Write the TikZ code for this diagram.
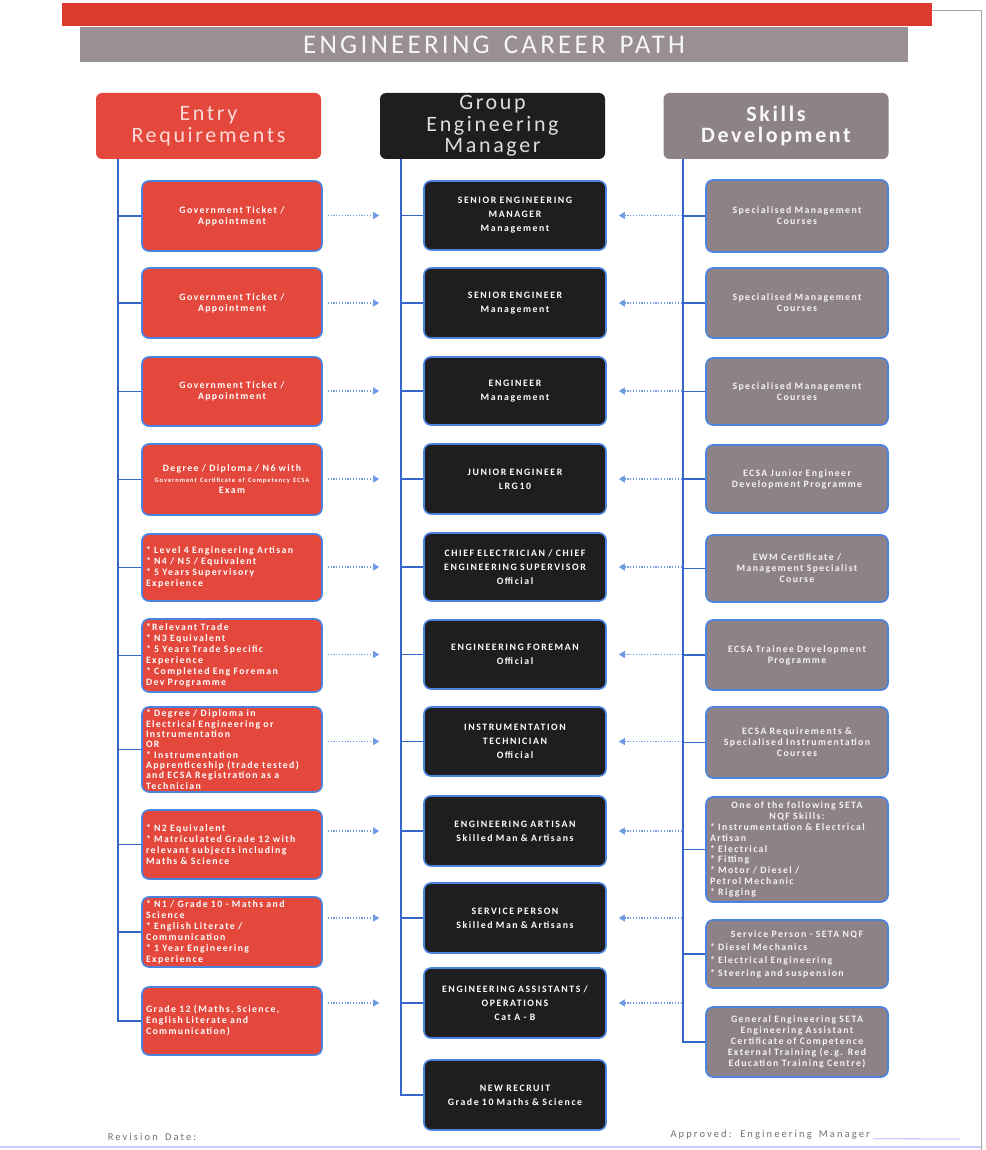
\documentclass[tikz,border=0pt]{standalone}
\usepackage{fontspec}
\setmainfont{Carlito}
\newfontfamily\boxfont[LetterSpace=14,WordSpace=1.8]{Carlito}
\newfontfamily\midfont[LetterSpace=16,WordSpace=2]{Carlito}
\newfontfamily\hdrfont[LetterSpace=12,WordSpace=1.5]{Carlito}
\newfontfamily\footfont[LetterSpace=20,WordSpace=1.6]{Carlito}
\usetikzlibrary{arrows.meta,calc}
\definecolor{topred}{HTML}{DC3A2E}
\definecolor{titlegrey}{HTML}{9A8F95}
\definecolor{redc}{HTML}{E4473B}
\definecolor{blackc}{HTML}{1E1E21}
\definecolor{greyc}{HTML}{8D8288}
\definecolor{bordc}{HTML}{4A84E0}
\definecolor{trunkc}{HTML}{3566C8}
\definecolor{dotc}{HTML}{6F9BE2}
\definecolor{foottext}{HTML}{707070}
\tikzset{
  hdrbox/.style={rounded corners=6pt, minimum width=225pt, minimum height=66pt, inner sep=0pt, text width=220pt, align=center, font={\hdrfont\fontsize{22}{21.5}\selectfont}},
  cbox/.style={rounded corners=7pt, draw=bordc, line width=1.6pt, inner sep=0pt, text=white},
  lbox/.style={cbox, fill=redc, minimum width=180pt, text width=172pt, align=center, font={\boxfont\bfseries\fontsize{9.8}{11}\selectfont}},
  mbox/.style={cbox, fill=blackc, minimum width=182pt, text width=176pt, align=center, font={\midfont\bfseries\fontsize{9.8}{14}\selectfont}},
  rbox/.style={cbox, fill=greyc, minimum width=182pt, text width=174pt, align=center, text=white!90!greyc, font={\boxfont\bfseries\fontsize{9.8}{11}\selectfont}},
  trunk/.style={draw=trunkc, line width=1.5pt},
  dotarr/.style={draw=dotc, line width=1.1pt, dash pattern=on 1.2pt off 1.6pt, -{Triangle[length=6pt,width=7pt]}},
  foot/.style={text=foottext, font={\footfont\fontsize{10.5}{12}\selectfont}, inner sep=0pt}
}
\begin{document}
\begin{tikzpicture}[x=1pt,y=-1pt]
\useasboundingbox (0,0) rectangle (985,1150);
\fill[white] (0,0) rectangle (985,1150);
% page edges
\draw[gray!70, line width=0.8pt] (932,10) -- (981,10) -- (981,1150);
\draw[blue!20, line width=1.2pt] (0,1147) -- (981,1147);
% title bars
\node[fill=topred, minimum width=870pt, minimum height=23pt, inner sep=0pt] (topbar) at (497,14.5) {};
\node[fill=titlegrey, minimum width=828pt, minimum height=35pt, inner sep=0pt, text=white!92!titlegrey, font={\hdrfont\fontsize{27}{28}\selectfont}] (title) at (494,44.5) {ENGINEERING CAREER PATH};
% column headers
\node[hdrbox, fill=redc, text=white!80!redc] (H1) at (208.5,126) {Entry\\Requirements};
\node[hdrbox, fill=blackc, text=white!85!blackc] (H2) at (492.5,126) {Group\\Engineering\\Manager};
\node[hdrbox, fill=greyc, text=white!95!greyc, font={\hdrfont\bfseries\fontsize{22}{21.5}\selectfont}] (H3) at (776,126) {Skills\\Development};
% left column
\node[lbox, minimum height=70pt] (L1) at (232,216) {Government Ticket /\\Appointment};
\node[lbox, minimum height=70pt] (L2) at (232,303) {Government Ticket /\\Appointment};
\node[lbox, minimum height=69pt] (L3) at (232,391.5) {Government Ticket /\\Appointment};
\node[lbox, minimum height=71pt] (L4) at (232,479.5) {Degree / Diploma / N6 with\\{\fontsize{6.5}{8}\selectfont Government Certificate of Competency ECSA}\\Exam};
\node[lbox, minimum height=67pt, align=left] (L5) at (232,567.5) {{*} Level 4 Engineering Artisan\\{*} N4 / N5 / Equivalent\\{*} 5 Years Supervisory\\Experience};
\node[lbox, minimum height=73pt, align=left] (L6) at (232,655.5) {{*}Relevant Trade\\{*} N3 Equivalent\\{*} 5 Years Trade Specific\\Experience\\{*} Completed Eng Foreman\\Dev Programme};
\node[lbox, minimum height=85pt, align=left, font={\boxfont\bfseries\fontsize{9.8}{10.3}\selectfont}] (L7) at (232,749.5) {{*} Degree / Diploma in\\Electrical Engineering or\\Instrumentation\\OR\\{*} Instrumentation\\Apprenticeship (trade tested)\\and ECSA Registration as a\\Technician};
\node[lbox, minimum height=69pt, align=left] (L8) at (232,844.5) {{*} N2 Equivalent\\{*} Matriculated Grade 12 with\\relevant subjects including\\Maths \& Science};
\node[lbox, minimum height=70pt, align=left] (L9) at (232,932) {{*} N1 / Grade 10 - Maths and\\Science\\{*} English Literate /\\Communication\\{*} 1 Year Engineering\\Experience};
\node[lbox, minimum height=68pt, align=left] (L10) at (232,1021) {Grade 12 (Maths, Science,\\English Literate and\\Communication)};
% middle column
\node[mbox, minimum height=69pt] (M1) at (515,215.5) {SENIOR ENGINEERING\\MANAGER\\Management};
\node[mbox, minimum height=70pt] (M2) at (515,303) {SENIOR ENGINEER\\Management};
\node[mbox, minimum height=68pt] (M3) at (515,391) {ENGINEER\\Management};
\node[mbox, minimum height=70pt] (M4) at (515,479) {JUNIOR ENGINEER\\LRG10};
\node[mbox, minimum height=68pt] (M5) at (515,567) {CHIEF ELECTRICIAN / CHIEF\\ENGINEERING SUPERVISOR\\Official};
\node[mbox, minimum height=69pt] (M6) at (515,654.5) {ENGINEERING FOREMAN\\Official};
\node[mbox, minimum height=69pt] (M7) at (515,741.5) {INSTRUMENTATION\\TECHNICIAN\\Official};
\node[mbox, minimum height=70pt] (M8) at (515,831) {ENGINEERING ARTISAN\\Skilled Man \& Artisans};
\node[mbox, minimum height=70pt] (M9) at (515,918) {SERVICE PERSON\\Skilled Man \& Artisans};
\node[mbox, minimum height=70pt] (M10) at (515,1003) {ENGINEERING ASSISTANTS /\\OPERATIONS\\Cat A - B};
\node[mbox, minimum height=70pt] (M11) at (515,1095) {NEW RECRUIT\\Grade 10 Maths \& Science};
% right column
\node[rbox, minimum height=72pt] (R1) at (797,216) {Specialised Management\\Courses};
\node[rbox, minimum height=70pt] (R2) at (797,303) {Specialised Management\\Courses};
\node[rbox, minimum height=67pt] (R3) at (797,391.5) {Specialised Management\\Courses};
\node[rbox, minimum height=68pt] (R4) at (797,479) {ECSA Junior Engineer\\Development Programme};
\node[rbox, minimum height=67pt] (R5) at (797,568.5) {EWM Certificate /\\Management Specialist\\Course};
\node[rbox, minimum height=70pt] (R6) at (797,655) {ECSA Trainee Development\\Programme};
\node[rbox, minimum height=71pt] (R7) at (797,742.5) {ECSA Requirements \&\\Specialised Instrumentation\\Courses};
\node[rbox, minimum height=105pt, align=left, font={\boxfont\bfseries\fontsize{9.8}{10.8}\selectfont}] (R8) at (797,849.5) {\hfil One of the following SETA\\\hfil NQF Skills:\\{*} Instrumentation \& Electrical\\Artisan\\{*} Electrical\\{*} Fitting\\{*} Motor / Diesel /\\Petrol Mechanic\\{*} Rigging};
\node[rbox, minimum height=68pt, align=left, font={\boxfont\bfseries\fontsize{9.8}{13}\selectfont}] (R9) at (797,954) {\hfil Service Person - SETA NQF\\{*} Diesel Mechanics\\{*} Electrical Engineering\\{*} Steering and suspension};
\node[rbox, minimum height=70pt, font={\boxfont\bfseries\fontsize{9.8}{11}\selectfont}] (R10) at (797,1042) {General Engineering SETA\\Engineering Assistant\\Certificate of Competence\\External Training (e.g. Red\\Education Training Centre)};
% trunks
\coordinate (lt) at (118,159);
\coordinate (mt) at (401,159);
\coordinate (rt) at (683,159);
\draw[trunk] (lt) -- (lt |- L10.west) -- (L10.west);
\foreach \i in {1,...,9} \draw[trunk] (lt |- L\i.west) -- (L\i.west);
\draw[trunk] (mt) -- (mt |- M11.west) -- (M11.west);
\foreach \i in {1,...,10} \draw[trunk] (mt |- M\i.west) -- (M\i.west);
\draw[trunk] (rt) -- (rt |- R10.west) -- (R10.west);
\foreach \i in {1,...,9} \draw[trunk] (rt |- R\i.west) -- (R\i.west);
% dotted arrows
\foreach \i in {1,...,10} {
  \draw[dotarr] ($(L\i.east |- M\i.west)+(5,0)$) -- ($(M\i.west)+(-44,0)$);
  \draw[dotarr] ($(M\i.east)+(75,0)$) -- ($(M\i.east)+(12,0)$);
}
% footer
\node[foot] (rev) at (152,1137) {Revision Date:};
\node[foot, anchor=east] (appr) at (870,1135) {Approved: Engineering Manager};
\coordinate (sig) at (960,1139);
\draw[blue!30, line width=0.8pt] ($(appr.south east)+(3,-1)$) -- (sig);
\end{tikzpicture}
\end{document}
